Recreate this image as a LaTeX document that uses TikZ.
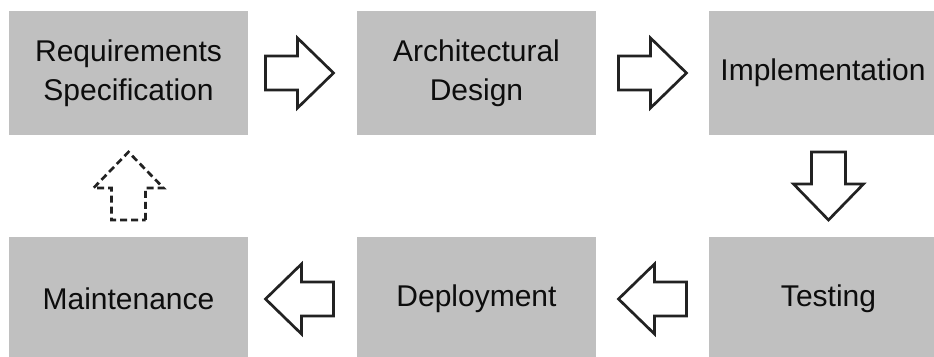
\documentclass[tikz,border=0pt]{standalone}
\usepackage{fontspec}
\setmainfont{Liberation Sans}
\usetikzlibrary{calc}
\definecolor{boxgray}{RGB}{192,192,192}
\definecolor{arrowline}{RGB}{34,34,34}
\tikzset{
  stagebox/.style={rectangle, fill=boxgray, minimum width=239pt, minimum height=124pt, inner sep=0pt, align=center, font=\fontsize{30}{38}\selectfont, text=black!95},
  blockarrow/.style={draw=arrowline, line width=2.7pt, fill=white, line join=miter},
  dashedarrow/.style={blockarrow, dash pattern=on 7pt off 4pt}
}
\newcommand{\blkarrow}[3][]{%
  \begin{scope}[shift={(#2)}, rotate=#3]
    \draw[blockarrow,#1] (-34,-17) -- (-2,-17) -- (-2,-35) -- (34,0) -- (-2,35) -- (-2,17) -- (-34,17) -- cycle;
  \end{scope}}
\begin{document}
\begin{tikzpicture}[x=1pt, y=1pt]
\useasboundingbox (0,0) rectangle (934,356);
\clip (0,0) rectangle (934,356);
\node[stagebox] (req)  at (128.5,283) {\raisebox{-3pt}{\begin{tabular}{@{}c@{}}Requirements\\[1pt]Specification\end{tabular}}};
\node[stagebox] (arch) at (476.5,283) {\raisebox{-3pt}{\begin{tabular}{@{}c@{}}Architectural\\[1pt]Design\end{tabular}}};
\node[stagebox] (impl) at (828.5,283) {\hspace*{-11pt}Implementation};
\node[stagebox] (test) at (828.5,57) {Testing};
\node[stagebox] (dep)  at (476.5,57) {Deployment};
\node[stagebox] (main) at (128.5,57) {Maintenance};
\coordinate (a1) at ($(req.east)!0.5!(arch.west)+(-3,0)$);
\coordinate (a2) at ($(arch.east)!0.5!(impl.west)$);
\coordinate (a3) at ($(impl.south)!0.5!(test.north)$);
\coordinate (a4) at ($(test.west)!0.5!(dep.east)$);
\coordinate (a5) at ($(dep.west)!0.5!(main.east)+(-3,0)$);
\coordinate (a6) at ($(main.north)!0.5!(req.south)$);
\blkarrow{a1}{0}
\blkarrow{a2}{0}
\blkarrow{a3}{-90}
\blkarrow{a4}{180}
\blkarrow{a5}{180}
\blkarrow[dashedarrow]{a6}{90}
\end{tikzpicture}
\end{document}
